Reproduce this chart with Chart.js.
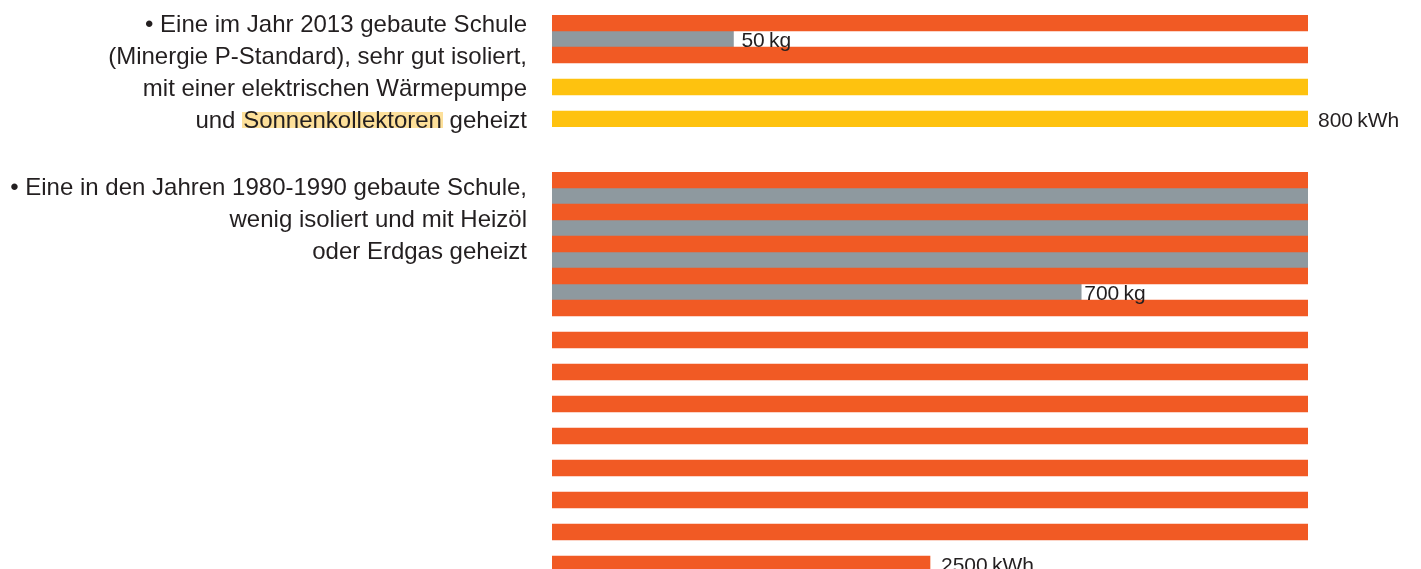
<!DOCTYPE html>
<html lang="de">
<head>
<meta charset="utf-8">
<title>Heizenergie zweier Schulen</title>
<script src="https://cdn.jsdelivr.net/npm/chart.js@4"></script>
<style>
  html, body { margin: 0; padding: 0; background: #fff; overflow: hidden; }
  body { width: 1421px; height: 569px; position: relative; font-family: "Liberation Sans", Arial, sans-serif; color: #231f20; }
  canvas { position: absolute; left: 0; }
  .desc { position: absolute; right: 894px; text-align: right; font-size: 24px; line-height: 32px; white-space: nowrap; z-index: 2; }
  .mark { background: linear-gradient(to bottom, transparent 6px, #fde09a 6px, #fde09a 22px, transparent 22px); padding: 0 1px; }
</style>
</head>
<body>
<div class="desc" style="top:8px">• Eine im Jahr 2013 gebaute Schule<br>(Minergie P-Standard), sehr gut isoliert,<br>mit einer elektrischen Wärmepumpe<br>und <span class="mark">Sonnenkollektoren</span> geheizt</div>
<div class="desc" style="top:171px">• Eine in den Jahren 1980-1990 gebaute Schule,<br>wenig isoliert und mit Heizöl<br>oder Erdgas geheizt</div>
<canvas id="neu" width="1421" height="140" style="top:0"></canvas>
<canvas id="alt" width="1421" height="440" style="top:140px"></canvas>
<script>
// ein Balken = 200 kWh; graue Balken = CO2, als Anteil eines Balkens
const KWH_PER_BAR = 200;

// Schule 2013 (Minergie P)
const neuKwh    = [200, null, 200, null, 200, null, 200];
const neuQuelle = ['Strom', null, 'Strom', null, 'Sonne', null, 'Sonne'];
const neuCo2    = [null, 0.24, null, null, null, null, null];
const neuCo2Kg  = 50;

// Schule 1980-1990 (Heizöl / Erdgas)
const altKwh    = [200, null, 200, null, 200, null, 200, null, 200, null, 200, null, 200,
                   null, 200, null, 200, null, 200, null, 200, null, 200, null, 100];
const altQuelle = altKwh.map(v => v == null ? null : 'Fossil');
const altCo2    = [null, 1, null, 1, null, 1, null, 0.70];
const altCo2Kg  = 700;

const colors = { Strom: '#f15a24', Fossil: '#f15a24', Sonne: '#fec20f', co2: '#8e999f' };
const FONT = '21px "Liberation Sans", Arial, sans-serif';

const sum = arr => arr.reduce((a, v) => a + (v || 0), 0);

// Beschriftung rechts neben einem Balken
const labelPlugin = {
  id: 'barLabels',
  afterDatasetsDraw(chart, args, opts) {
    const c = chart.ctx;
    c.save();
    c.font = FONT;
    c.fillStyle = '#231f20';
    c.textAlign = 'left';
    c.textBaseline = 'alphabetic';
    opts.items.forEach(it => {
      const bar = chart.getDatasetMeta(it.ds).data[it.i];
      c.fillText(it.text, bar.x + it.gap, bar.y + 7.5);
    });
    c.restore();
  }
};

function makeChart(id, kwh, quelle, co2, padTop, padBottom, labels) {
  return new Chart(document.getElementById(id), {
    type: 'bar',
    data: {
      labels: kwh.map((v, i) => 'Zeile ' + (i + 1)),
      datasets: [{
        label: 'Energie (kWh)',
        data: kwh,
        backgroundColor: quelle.map(q => q ? colors[q] : 'transparent'),
        xAxisID: 'x',
        grouped: false,
        barPercentage: 1,
        categoryPercentage: 1,
        borderWidth: 0
      }, {
        label: 'CO2 (kg)',
        data: co2.concat(new Array(kwh.length - co2.length).fill(null)),
        backgroundColor: colors.co2,
        xAxisID: 'xCo2',
        grouped: false,
        barPercentage: 1,
        categoryPercentage: 1,
        borderWidth: 0
      }]
    },
    options: {
      indexAxis: 'y',
      responsive: false,
      animation: false,
      events: [],
      layout: { padding: { left: 552, right: 113, top: padTop, bottom: padBottom } },
      plugins: {
        legend: { display: false },
        tooltip: { enabled: false },
        barLabels: { items: labels }
      },
      scales: {
        x: { display: false, min: 0, max: KWH_PER_BAR },
        xCo2: { display: false, min: 0, max: 1 },
        y: { display: false }
      }
    },
    plugins: [labelPlugin]
  });
}

makeChart('neu', neuKwh, neuQuelle, neuCo2, 15, 13, [
  { ds: 1, i: 1, gap: 8, text: neuCo2Kg + '\u2009kg' },
  { ds: 0, i: 6, gap: 10, text: sum(neuKwh) + '\u2009kWh' }
]);

makeChart('alt', altKwh, altQuelle, altCo2, 32, 8, [
  { ds: 1, i: 7, gap: 3, text: altCo2Kg + '\u2009kg' },
  { ds: 0, i: 24, gap: 11, text: sum(altKwh) + '\u2009kWh' }
]);
</script>
</body>
</html>
